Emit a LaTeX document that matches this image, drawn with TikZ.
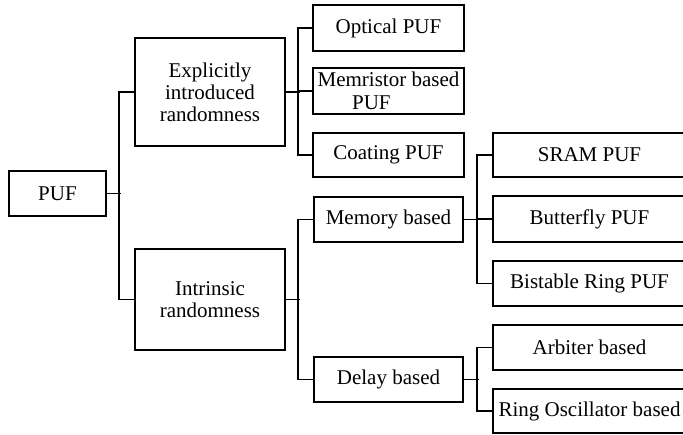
\documentclass[tikz,border=0pt]{standalone}
\usepackage{fontspec}
\setmainfont{Liberation Serif}
\begin{document}
\begin{tikzpicture}[x=1pt,y=-1pt,
  box/.style={draw, line width=1.7pt, inner sep=0pt, align=center,
    font=\fontsize{21}{22}\selectfont},
  conn/.style={line width=1.7pt}]
\useasboundingbox (0,0) rectangle (683,434);
\clip (0,0) rectangle (683,434);
% level 0
\node[box, minimum width=97pt, minimum height=45pt] (puf) at (57.5,193.5) {PUF};
% level 1
\node[box, minimum width=150pt, minimum height=108pt] (exp) at (210,92) {Explicitly\\introduced\\randomness};
\node[box, minimum width=150pt, minimum height=101pt] (intr) at (210,299.5) {Intrinsic\\randomness};
% level 2
\node[box, minimum width=151pt, minimum height=46pt] (opt) at (388.5,28) {Optical PUF};
\node[box, minimum width=151pt, minimum height=46pt, align=left, font=\fontsize{21}{23.5}\selectfont] (memr) at (388.5,91) {Memristor based\\\hspace*{34.5pt}PUF};
\node[box, minimum width=151pt, minimum height=44pt] (coat) at (388.5,155) {Coating PUF};
\node[box, minimum width=149pt, minimum height=45pt] (memb) at (388.5,219.5) {Memory based};
\node[box, minimum width=149pt, minimum height=45pt] (delay) at (388.5,379.5) {Delay based};
% level 3
\node[box, minimum width=193pt, minimum height=44pt] (sram) at (589.5,155) {SRAM PUF};
\node[box, minimum width=193pt, minimum height=46pt] (butt) at (589.5,219) {Butterfly PUF};
\node[box, minimum width=193pt, minimum height=45pt] (bist) at (589.5,283.5) {Bistable Ring PUF};
\node[box, minimum width=193pt, minimum height=45pt] (arb) at (589.5,347.5) {Arbiter based};
\node[box, minimum width=193pt, minimum height=44pt] (ring) at (589.5,411) {Ring Oscillator based};
% connectors
\draw[conn] (puf.east) -- ++(14,0);
\draw[conn] (exp.west) -- ++(-15,0) |- (intr.west);
\draw[conn] (exp.east) -- ++(14,0);
\draw[conn] (opt.west) -- ++(-14,0) |- (coat.west);
\draw[conn] (memr.west) -- ++(-14,0);
\draw[conn] (intr.east) -- ++(14,0);
\draw[conn] (memb.west) -- ++(-15,0) |- (delay.west);
\draw[conn] (memb.east) -- ++(15,0);
\draw[conn] (sram.west) -- ++(-15,0) |- (bist.west);
\draw[conn] (butt.west) -- ++(-15,0);
\draw[conn] (delay.east) -- ++(15,0);
\draw[conn] (arb.west) -- ++(-15,0) |- (ring.west);
\end{tikzpicture}
\end{document}
